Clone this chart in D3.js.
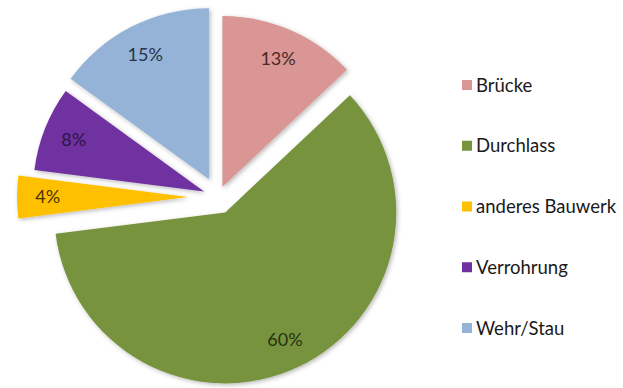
<!DOCTYPE html>
<html>
<head>
<meta charset="utf-8">
<script src="https://cdn.jsdelivr.net/npm/d3@7"></script>
<style>
  body { margin: 0; background: #fff; }
  svg { display: block; }
</style>
</head>
<body>
<div id="chart"></div>
<script>
const categories = ["Brücke", "Durchlass", "anderes Bauwerk", "Verrohrung", "Wehr/Stau"];
const values = [13, 60, 4, 8, 15];
const labels = ["13%", "60%", "4%", "8%", "15%"];

const colors = ["#D99694", "#77933C", "#FFC000", "#7030A0", "#95B3D7"];
const labelColors = ["#4a2828", "#243414", "#4a3400", "#2e1448", "#26344e"];
const explode = [11, 17, 30, 15, 20]; // pull-out per slice, px

const width = 623, height = 388;
const cx = 218, cy = 197, r = 171;

let svg = d3.select("#chart").append("svg")
    .attr("width", width).attr("height", height)
    .attr("viewBox", [0, 0, width, height]);

// soft shadow like the excel one
let defs = svg.append("defs");
defs.append("filter").attr("id", "shadow")
    .attr("x", "-10%").attr("y", "-10%").attr("width", "120%").attr("height", "120%")
    .append("feDropShadow")
    .attr("dx", 1.5).attr("dy", 1.5).attr("stdDeviation", 2)
    .attr("flood-color", "#000").attr("flood-opacity", 0.28);

let pie = d3.pie().sort(null).value(d => d);
let arcs = pie(values);

let arc = d3.arc().innerRadius(0).outerRadius(r);
let labelArc = d3.arc().innerRadius(r * 0.82).outerRadius(r * 0.82);

const offset = (d, i) => {
    let mid = (d.startAngle + d.endAngle) / 2;
    return [Math.sin(mid) * explode[i], -Math.cos(mid) * explode[i]];
};

let slice = svg.append("g")
    .attr("transform", `translate(${cx},${cy})`)
    .selectAll(".slice")
    .data(arcs)
    .join("g")
    .attr("class", "slice")
    .attr("transform", (d, i) => `translate(${offset(d, i)})`);

slice.append("path")
    .attr("d", arc)
    .attr("fill", (d, i) => colors[i])
    .attr("filter", "url(#shadow)");

slice.append("text")
    .attr("transform", d => `translate(${labelArc.centroid(d)})`)
    .attr("text-anchor", "middle")
    .attr("dy", "0.35em")
    .attr("font-family", "Lato, 'Open Sans', sans-serif")
    .attr("font-size", 18)
    .attr("fill", (d, i) => labelColors[i])
    .text((d, i) => labels[i]);

/* legend */
let legendY = d3.scalePoint()
    .domain(categories)
    .range([85, 328]);

let legend = svg.append("g")
    .selectAll(".item")
    .data(categories)
    .join("g")
    .attr("class", "item")
    .attr("transform", d => `translate(462, ${legendY(d)})`);

legend.append("rect")
    .attr("x", 0).attr("y", -5)
    .attr("width", 10).attr("height", 10)
    .attr("fill", (d, i) => colors[i]);

legend.append("text")
    .attr("x", 14)
    .attr("dy", "0.36em")
    .attr("font-family", "Lato, 'Open Sans', sans-serif")
    .attr("font-size", 18.5)
    .attr("fill", "#1a1a1a")
    .text(d => d);
</script>
</body>
</html>
